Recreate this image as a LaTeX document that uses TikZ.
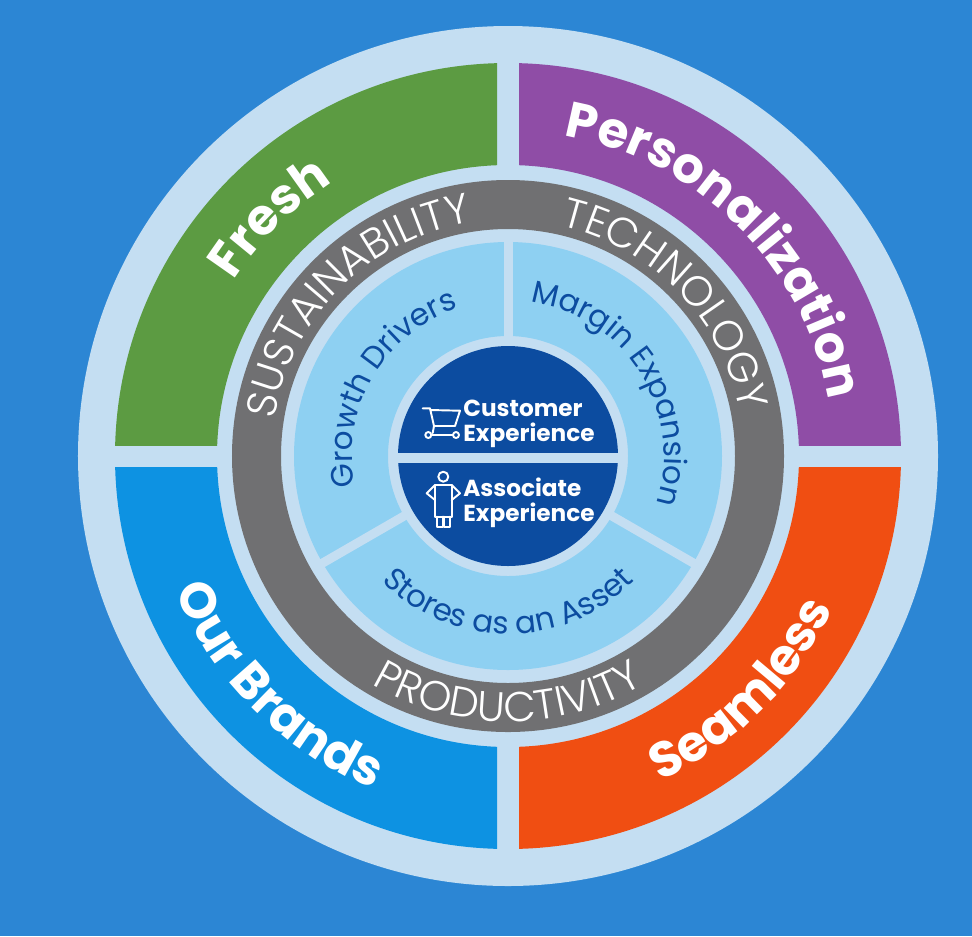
\documentclass[tikz,border=0pt]{standalone}
\usepackage{fontspec}
\usetikzlibrary{decorations.text}
\newfontfamily\popfont{Poppins}
\newfontfamily\popthin{Poppins Light}
\definecolor{bgblue}{RGB}{44,134,212}
\definecolor{pale}{RGB}{196,222,242}
\definecolor{greenseg}{RGB}{92,155,66}
\definecolor{purpleseg}{RGB}{143,77,166}
\definecolor{orangeseg}{RGB}{240,78,18}
\definecolor{brandseg}{RGB}{13,146,226}
\definecolor{ringgray}{RGB}{112,112,114}
\definecolor{lightseg}{RGB}{142,208,242}
\definecolor{darkdisc}{RGB}{12,76,160}
\newcommand{\outerfont}{\popfont\bfseries\fontsize{28.4}{29}\selectfont\color{white}}
\newcommand{\ringfont}{\popthin\fontsize{23.9}{24}\selectfont\color{white}}
\newcommand{\driverfont}{\popfont\fontsize{17.6}{18}\selectfont\color{darkdisc}}
\begin{document}
\begin{tikzpicture}[
	outerlabel/.style={decorate, decoration={text along path, text align=center, text={|\outerfont|#1}}},
	ringlabel/.style={decorate, decoration={text along path, text align=center, text={|\ringfont|#1}}},
	driverlabel/.style={decorate, decoration={text along path, text align=center, text={|\driverfont|#1}}},
	icon/.style={draw=white, line width=1.1pt, line join=round, line cap=round}]
	\useasboundingbox (-10.16, -9.6) rectangle (9.28, 9.12);
	\fill[bgblue] (-10.16, -9.6) rectangle (9.28, 9.12);
	\fill[pale] (0, 0) circle (8.6);
	\foreach \col/\sx/\sy in {purpleseg/1/1, greenseg/-1/1, brandseg/-1/-1, orangeseg/1/-1} {
		\begin{scope}
			\clip (\sx*0.22, \sy*0.22) rectangle (\sx*9, \sy*9);
			\fill[\col, even odd rule] (0, 0) circle (7.86) circle (5.82);
		\end{scope}
	}
	\fill[ringgray, even odd rule] (0, 0) circle (5.52) circle (4.54);
	\fill[lightseg, even odd rule] (0, 0) circle (4.28) circle (2.4);
	\foreach \a in {90, 210, 330}
		\draw[pale, line width=0.18cm] (\a:2.3) -- (\a:4.4);
	\fill[darkdisc] (0, 0) circle (2.2);
	\fill[pale] (-2.3, -0.14) rectangle (2.3, 0.06);
	\path[outerlabel=Fresh] (215:6.5) arc[start angle=215, end angle=55, radius=6.5];
	\path[outerlabel=Personalization] (125:6.5) arc[start angle=125, end angle=-35, radius=6.5];
	\path[outerlabel={Our Brands}] (145:7.18) arc[start angle=145, end angle=305, radius=7.18];
	\path[outerlabel=Seamless] (235:7.18) arc[start angle=235, end angle=395, radius=7.18];
	\path[ringlabel=SUSTAINABILITY] (215:4.73) arc[start angle=215, end angle=55, radius=4.73];
	\path[ringlabel=TECHNOLOGY] (124:4.73) arc[start angle=124, end angle=-36, radius=4.73];
	\path[ringlabel=PRODUCTIVITY] (190:5.31) arc[start angle=190, end angle=350, radius=5.31];
	\path[driverlabel={Growth Drivers}] (230:3.12) arc[start angle=230, end angle=70, radius=3.12];
	\path[driverlabel={Margin Expansion}] (112:3.12) arc[start angle=112, end angle=-48, radius=3.12];
	\path[driverlabel={Stores as an Asset}] (190:3.56) arc[start angle=190, end angle=350, radius=3.56];
	\node (cust) [anchor=north west, inner sep=0, align=left, text=white,
		font=\popfont\bfseries\fontsize{13.2}{14.2}\selectfont] at (-0.9, 1.12) {Customer\\Experience};
	\node (assoc) [anchor=north west, inner sep=0, align=left, text=white,
		font=\popfont\bfseries\fontsize{13.2}{14.2}\selectfont] at (-0.9, -0.44) {Associate\\Experience};
	\draw[icon] (-1.706, 0.954) -- (-1.56, 0.954) -- (-1.48, 0.6) -- (-1.06, 0.6) -- (-0.96, 0.906) -- (-1.56, 0.92);
	\draw[icon] (-1.48, 0.6) -- (-1.506, 0.46);
	\draw[icon] (-1.53, 0.42) -- (-1.1, 0.42);
	\draw[icon] (-1.594, 0.42) circle (0.06);
	\draw[icon] (-1.04, 0.42) circle (0.06);
	\draw[icon] (-1.294, -0.414) circle (0.1);
	\draw[icon] (-1.46, -0.58) -- (-1.626, -0.746) -- (-1.46, -0.88);
	\draw[icon] (-1.126, -0.58) -- (-0.96, -0.746) -- (-1.126, -0.88);
	\draw[icon] (-1.46, -0.58) rectangle (-1.126, -1.214);
	\draw[icon] (-1.426, -1.214) -- (-1.426, -1.414) -- (-1.3, -1.414) -- (-1.3, -1.214);
	\draw[icon] (-1.28, -1.214) -- (-1.28, -1.414) -- (-1.16, -1.414) -- (-1.16, -1.214);
\end{tikzpicture}
\end{document}
